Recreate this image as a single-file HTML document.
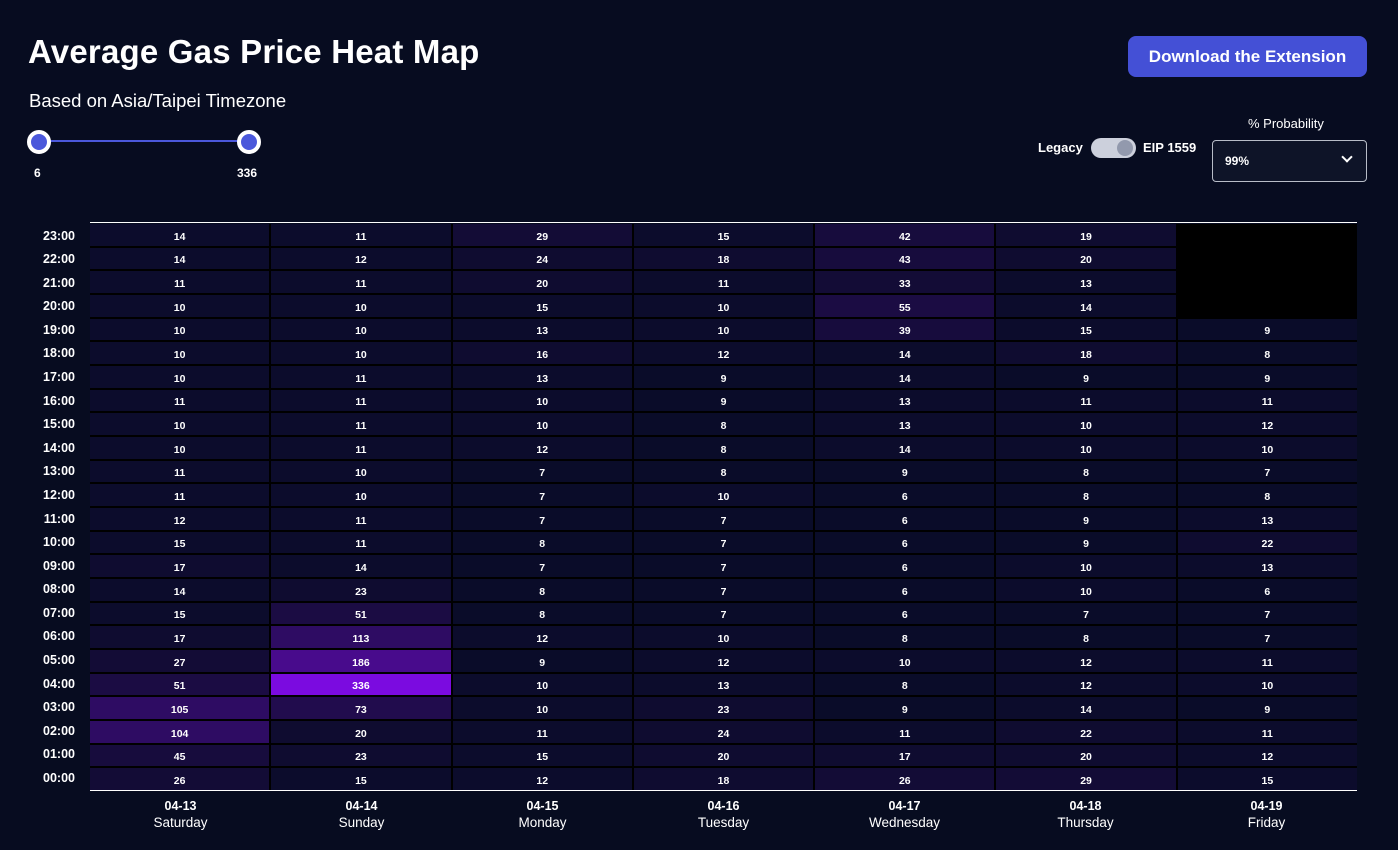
<!DOCTYPE html>
<html><head><meta charset="utf-8"><style>
*{margin:0;padding:0;box-sizing:border-box}
body{width:1398px;height:850px;background:#070c20;font-family:"Liberation Sans",sans-serif;color:#fff;position:relative;overflow:hidden}
.abs{position:absolute}
h1{position:absolute;left:28px;top:33px;font-size:33px;font-weight:bold;letter-spacing:0.2px}
.sub{left:29px;top:90px;font-size:18.5px}
.btn{left:1128px;top:36px;width:239px;height:41px;background:#4450d6;border-radius:8px;font-size:17px;font-weight:bold;text-align:center;line-height:41px}
.knob{width:24px;height:24px;border-radius:50%;background:#4b58db;border:4px solid #fff}
.grid{position:absolute;left:90px;top:224px;width:1267px;height:566px;background:#000;display:grid;grid-template-columns:repeat(7,1fr);grid-template-rows:repeat(24,1fr);gap:2px}
.grid div{display:flex;align-items:center;justify-content:center;font-size:10.5px;font-weight:bold;background:rgb(12,12,44);padding-top:4px}
.grid .a{background:rgb(10,12,41)}.grid .c{background:rgb(15,12,48)}.grid .d{background:rgb(19,12,54)}.grid .e{background:rgb(23,12,61)}.grid .f{background:rgb(27,12,67)}.grid .g{background:rgb(33,12,77)}.grid .h{background:rgb(46,12,99)}.grid .i{background:rgb(72,11,140)}.grid .j{background:rgb(123,11,224)}.grid .k{background:#000}
.yl{position:absolute;left:0;width:75px;text-align:right;font-size:12.5px;font-weight:bold}
.xl{position:absolute;top:799px;width:181px;text-align:center}
.xl b{display:block;font-size:12.5px}
.xl span{display:block;font-size:13.5px;margin-top:2px}
</style></head><body>
<h1>Average Gas Price Heat Map</h1>
<div class="abs sub">Based on Asia/Taipei Timezone</div>
<div class="abs" style="left:39px;top:140px;width:210px;height:2px;background:#4b58db"></div>
<div class="abs knob" style="left:27px;top:130px"></div>
<div class="abs knob" style="left:237px;top:130px"></div>
<div class="abs" style="left:34px;top:166px;font-size:12px;font-weight:bold">6</div>
<div class="abs" style="left:237px;top:166px;font-size:12px;font-weight:bold">336</div>
<div class="abs btn">Download the Extension</div>
<div class="abs" style="left:1038px;top:140px;font-size:13px;font-weight:bold">Legacy</div>
<div class="abs" style="left:1091px;top:138px;width:45px;height:20px;border-radius:10px;background:#ccd0dc"></div>
<div class="abs" style="left:1117px;top:140px;width:16px;height:16px;border-radius:50%;background:#9299ad"></div>
<div class="abs" style="left:1143px;top:140px;font-size:13px;font-weight:bold">EIP 1559</div>
<div class="abs" style="left:1248px;top:116px;font-size:13px">% Probability</div>
<div class="abs" style="left:1212px;top:140px;width:155px;height:42px;border:1px solid #b8bdc8;border-radius:4px;background:#0e1428"></div>
<div class="abs" style="left:1225px;top:154px;font-size:12px;font-weight:bold">99%</div>
<div class="abs" style="left:1343px;top:153px;width:8px;height:8px;border-right:2px solid #fff;border-bottom:2px solid #fff;transform:rotate(45deg)"></div>
<div class="abs" style="left:90px;top:222px;width:1267px;height:1px;background:#fff"></div>
<div class="abs" style="left:90px;top:790px;width:1267px;height:1px;background:#fff"></div>
<div class="grid">
<div>14</div><div>11</div><div class="d">29</div><div>15</div><div class="e">42</div><div class="c">19</div><div class="k"></div>
<div>14</div><div>12</div><div class="c">24</div><div class="c">18</div><div class="e">43</div><div class="c">20</div><div class="k"></div>
<div>11</div><div>11</div><div class="c">20</div><div>11</div><div class="d">33</div><div>13</div><div class="k"></div>
<div>10</div><div>10</div><div>15</div><div>10</div><div class="f">55</div><div>14</div><div class="k"></div>
<div>10</div><div>10</div><div>13</div><div>10</div><div class="e">39</div><div>15</div><div class="a">9</div>
<div>10</div><div>10</div><div class="c">16</div><div>12</div><div>14</div><div class="c">18</div><div class="a">8</div>
<div>10</div><div>11</div><div>13</div><div class="a">9</div><div>14</div><div class="a">9</div><div class="a">9</div>
<div>11</div><div>11</div><div>10</div><div class="a">9</div><div>13</div><div>11</div><div>11</div>
<div>10</div><div>11</div><div>10</div><div class="a">8</div><div>13</div><div>10</div><div>12</div>
<div>10</div><div>11</div><div>12</div><div class="a">8</div><div>14</div><div>10</div><div>10</div>
<div>11</div><div>10</div><div class="a">7</div><div class="a">8</div><div class="a">9</div><div class="a">8</div><div class="a">7</div>
<div>11</div><div>10</div><div class="a">7</div><div>10</div><div class="a">6</div><div class="a">8</div><div class="a">8</div>
<div>12</div><div>11</div><div class="a">7</div><div class="a">7</div><div class="a">6</div><div class="a">9</div><div>13</div>
<div>15</div><div>11</div><div class="a">8</div><div class="a">7</div><div class="a">6</div><div class="a">9</div><div class="c">22</div>
<div class="c">17</div><div>14</div><div class="a">7</div><div class="a">7</div><div class="a">6</div><div>10</div><div>13</div>
<div>14</div><div class="c">23</div><div class="a">8</div><div class="a">7</div><div class="a">6</div><div>10</div><div class="a">6</div>
<div>15</div><div class="f">51</div><div class="a">8</div><div class="a">7</div><div class="a">6</div><div class="a">7</div><div class="a">7</div>
<div class="c">17</div><div class="h">113</div><div>12</div><div>10</div><div class="a">8</div><div class="a">8</div><div class="a">7</div>
<div class="d">27</div><div class="i">186</div><div class="a">9</div><div>12</div><div>10</div><div>12</div><div>11</div>
<div class="f">51</div><div class="j">336</div><div>10</div><div>13</div><div class="a">8</div><div>12</div><div>10</div>
<div class="h">105</div><div class="g">73</div><div>10</div><div class="c">23</div><div class="a">9</div><div>14</div><div class="a">9</div>
<div class="h">104</div><div class="c">20</div><div>11</div><div class="c">24</div><div>11</div><div class="c">22</div><div>11</div>
<div class="e">45</div><div class="c">23</div><div>15</div><div class="c">20</div><div class="c">17</div><div class="c">20</div><div>12</div>
<div class="d">26</div><div>15</div><div>12</div><div class="c">18</div><div class="d">26</div><div class="d">29</div><div>15</div>
</div>
<div class="yl" style="top:229px">23:00</div><div class="yl" style="top:252px">22:00</div><div class="yl" style="top:276px">21:00</div><div class="yl" style="top:299px">20:00</div>
<div class="yl" style="top:323px">19:00</div><div class="yl" style="top:346px">18:00</div><div class="yl" style="top:370px">17:00</div><div class="yl" style="top:394px">16:00</div>
<div class="yl" style="top:417px">15:00</div><div class="yl" style="top:441px">14:00</div><div class="yl" style="top:464px">13:00</div><div class="yl" style="top:488px">12:00</div>
<div class="yl" style="top:512px">11:00</div><div class="yl" style="top:535px">10:00</div><div class="yl" style="top:559px">09:00</div><div class="yl" style="top:582px">08:00</div>
<div class="yl" style="top:606px">07:00</div><div class="yl" style="top:629px">06:00</div><div class="yl" style="top:653px">05:00</div><div class="yl" style="top:677px">04:00</div>
<div class="yl" style="top:700px">03:00</div><div class="yl" style="top:724px">02:00</div><div class="yl" style="top:747px">01:00</div><div class="yl" style="top:771px">00:00</div>
<div class="xl" style="left:90px"><b>04-13</b><span>Saturday</span></div>
<div class="xl" style="left:271px"><b>04-14</b><span>Sunday</span></div>
<div class="xl" style="left:452px"><b>04-15</b><span>Monday</span></div>
<div class="xl" style="left:633px"><b>04-16</b><span>Tuesday</span></div>
<div class="xl" style="left:814px"><b>04-17</b><span>Wednesday</span></div>
<div class="xl" style="left:995px"><b>04-18</b><span>Thursday</span></div>
<div class="xl" style="left:1176px"><b>04-19</b><span>Friday</span></div>
</body></html>
